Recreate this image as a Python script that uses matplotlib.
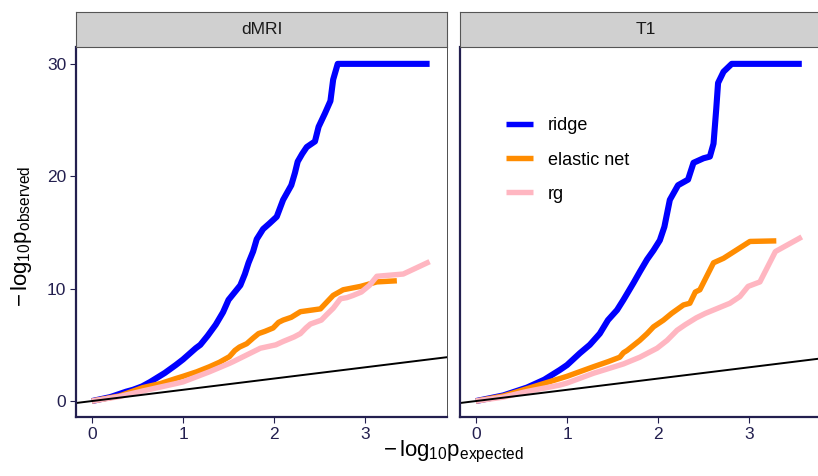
import matplotlib
matplotlib.use("Agg")
import matplotlib.pyplot as plt
from matplotlib.lines import Line2D

plt.rcParams['font.family'] = ['Liberation Sans', 'DejaVu Sans']
plt.rcParams['mathtext.fontset'] = 'custom'
plt.rcParams['mathtext.rm'] = 'Liberation Sans'
plt.rcParams['mathtext.it'] = 'Liberation Sans'

panels = ["dMRI", "T1"]
series_names = ["ridge", "elastic net", "rg"]

dmri_ridge_x = [0, 0.2, 0.374, 0.45, 0.55, 0.64, 0.70, 0.80, 0.92, 1.0, 1.07, 1.14, 1.19, 1.27, 1.36, 1.44,
                1.50, 1.55, 1.63, 1.68, 1.72, 1.77, 1.81, 1.88, 1.95, 2.03, 2.10, 2.19, 2.23, 2.26, 2.31,
                2.36, 2.45, 2.49, 2.56, 2.62, 2.65, 2.70, 3.71]
dmri_ridge_y = [0, 0.35, 0.83, 1.0, 1.3, 1.7, 2.0, 2.5, 3.2, 3.7, 4.2, 4.7, 5.0, 5.8, 6.8, 7.9,
                9.0, 9.5, 10.3, 11.3, 12.3, 13.3, 14.4, 15.3, 15.8, 16.4, 17.9, 19.2, 20.3, 21.3, 22.0,
                22.6, 23.1, 24.4, 25.6, 26.7, 28.6, 30.0, 30.0]

dmri_enet_x = [0, 0.3, 0.56, 0.75, 0.92, 1.0, 1.15, 1.29, 1.40, 1.51, 1.57, 1.62, 1.70, 1.77, 1.83, 1.90,
               1.99, 2.05, 2.10, 2.19, 2.29, 2.51, 2.58, 2.65, 2.76, 2.95, 3.13, 3.35]
dmri_enet_y = [0, 0.45, 1.2, 1.55, 2.0, 2.2, 2.6, 3.05, 3.45, 3.95, 4.5, 4.8, 5.1, 5.6, 6.0, 6.2,
               6.5, 7.0, 7.2, 7.45, 7.95, 8.2, 8.8, 9.4, 9.9, 10.2, 10.6, 10.7]

dmri_rg_x = [0, 0.3, 0.56, 0.92, 1.0, 1.29, 1.51, 1.55, 1.70, 1.85, 2.02, 2.10, 2.22, 2.29, 2.35, 2.40,
             2.52, 2.58, 2.65, 2.73, 2.80, 2.87, 2.96, 3.05, 3.13, 3.42, 3.71]
dmri_rg_y = [0, 0.4, 0.9, 1.55, 1.7, 2.6, 3.35, 3.5, 4.1, 4.7, 5.0, 5.3, 5.7, 6.0, 6.5, 6.85,
             7.2, 7.7, 8.25, 9.1, 9.2, 9.4, 9.7, 10.3, 11.1, 11.3, 12.4]

t1_ridge_x = [0, 0.3, 0.56, 0.75, 0.92, 1.0, 1.14, 1.25, 1.36, 1.45, 1.55, 1.62, 1.73, 1.80, 1.88, 1.95,
              2.02, 2.07, 2.13, 2.22, 2.33, 2.39, 2.50, 2.57, 2.61, 2.64, 2.66, 2.72, 2.81, 3.58]
t1_ridge_y = [0, 0.5, 1.2, 1.9, 2.76, 3.2, 4.25, 5.0, 6.0, 7.2, 8.1, 9.0, 10.5, 11.5, 12.6, 13.4,
              14.3, 15.5, 17.9, 19.2, 19.7, 21.2, 21.6, 21.75, 22.9, 26.0, 28.3, 29.3, 30.0, 30.0]

t1_enet_x = [0, 0.3, 0.56, 0.92, 1.0, 1.29, 1.45, 1.58, 1.62, 1.66, 1.80, 1.88, 1.95, 2.06, 2.15, 2.28,
             2.35, 2.41, 2.46, 2.61, 2.72, 3.01, 3.30]
t1_enet_y = [0, 0.45, 1.1, 2.0, 2.2, 3.05, 3.5, 3.9, 4.3, 4.5, 5.4, 6.0, 6.6, 7.2, 7.8, 8.55,
             8.7, 9.7, 9.9, 12.3, 12.7, 14.2, 14.25]

t1_rg_x = [0, 0.3, 0.56, 0.92, 1.0, 1.29, 1.62, 1.80, 1.99, 2.10, 2.21, 2.30, 2.42, 2.52, 2.61, 2.79,
           2.90, 2.99, 3.12, 3.29, 3.58]
t1_rg_y = [0, 0.35, 0.85, 1.42, 1.6, 2.47, 3.3, 3.9, 4.7, 5.4, 6.3, 6.8, 7.4, 7.8, 8.1, 8.7,
           9.3, 10.2, 10.6, 13.3, 14.6]

x_ticks = [0, 1, 2, 3]
y_ticks = [0, 10, 20, 30]

data = {
    "dMRI": [(dmri_ridge_x, dmri_ridge_y), (dmri_enet_x, dmri_enet_y), (dmri_rg_x, dmri_rg_y)],
    "T1": [(t1_ridge_x, t1_ridge_y), (t1_enet_x, t1_enet_y), (t1_rg_x, t1_rg_y)],
}
colors = ["#0000FF", "#FF8C00", "#FFB6C1"]
widths = [4.4, 3.9, 3.9]

W, H = 818, 476
fig = plt.figure(figsize=(W / 100, H / 100), dpi=100)
navy = "#231F4F"

panel_left_px = [76, 460]
panel_w_px = 371
top_px, bottom_px = 47, 417
strip_top_px = 12

xlim = (-0.176, 3.901)
ylim = (-1.42, 31.5)

axes = []
for i, name in enumerate(panels):
    l = panel_left_px[i] / W
    ax = fig.add_axes([l, (H - bottom_px) / H, panel_w_px / W, (bottom_px - top_px) / H])
    axes.append(ax)
    for (xs, ys), c, lw, lab in zip(data[name], colors, widths, series_names):
        ax.plot(xs, ys, color=c, lw=lw, solid_capstyle='butt', solid_joinstyle='round', label=lab)
    ax.plot([-1, 5], [-1, 5], color="black", lw=1.4)
    ax.set_xlim(*xlim)
    ax.set_ylim(*ylim)
    ax.set_xticks(x_ticks)
    ax.set_yticks(y_ticks)
    ax.tick_params(axis='both', colors=navy, labelcolor=navy, labelsize=12.5, length=4, width=0.8, pad=3)
    for s in ['left', 'bottom']:
        ax.spines[s].set_color(navy)
        ax.spines[s].set_linewidth(1.6)
    ax.spines['top'].set_color(navy)
    ax.spines['top'].set_linewidth(1.4)
    ax.spines['right'].set_color("#333333")
    ax.spines['right'].set_linewidth(0.6)
    if i == 1:
        ax.tick_params(axis='y', left=False, labelleft=False)
    # strip
    sax = fig.add_axes([l, (H - top_px) / H, panel_w_px / W, (top_px - strip_top_px) / H])
    sax.set_xticks([]); sax.set_yticks([])
    sax.set_facecolor("#D0D0D0")
    for s in sax.spines.values():
        s.set_color("#555555"); s.set_linewidth(0.8)
    sax.text(0.5, 0.5, name, ha='center', va='center', fontsize=12.5, color="#1A1A1A",
             transform=sax.transAxes)

handles = [Line2D([], [], color=c, lw=3.9, solid_capstyle='butt') for c in colors]
axes[1].legend(handles, series_names, loc='upper left',
               bbox_to_anchor=((506 - 460) / panel_w_px, (417 - 117.5) / 370),
               frameon=False, fontsize=13, handlelength=1.48, handletextpad=0.83, labelspacing=0.95,
               borderpad=0, borderaxespad=0)

fig.text(453 / W, 1 - 452 / H, r'$-\,\mathrm{log}_{10}\mathrm{p}_{\mathrm{expected}}$', ha='center', va='center',
         fontsize=16, color="black")
fig.text(22 / W, 1 - 236 / H, r'$-\,\mathrm{log}_{10}\mathrm{p}_{\mathrm{observed}}$', ha='center', va='center',
         fontsize=16, color="black", rotation=90)

fig.savefig("out.png", dpi=100)
